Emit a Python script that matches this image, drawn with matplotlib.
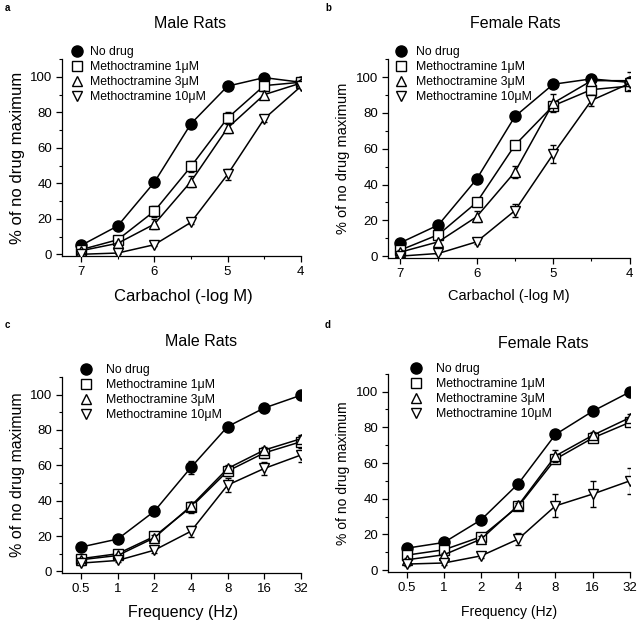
import matplotlib
matplotlib.use("Agg")
import matplotlib.pyplot as plt
from matplotlib.lines import Line2D
from matplotlib.ticker import MultipleLocator
import numpy as np

plt.rcParams['font.family'] = ['Liberation Sans', 'DejaVu Sans']

# Carbachol concentrations (-log M)
carb = [7, 6.5, 6, 5.5, 5, 4.5, 4]
# Frequencies (Hz), plotted on evenly spaced positions
freq_labels = ["0.5", "1", "2", "4", "8", "16", "32"]
freq_pos = [0, 1, 2, 3, 4, 5, 6]

series_names = ["No drug", "Methoctramine 1μM", "Methoctramine 3μM", "Methoctramine 10μM"]

# panel a - male, carbachol
a_nodrug = [5, 16, 40.6, 73.6, 94.8, 99.6, 97]
a_m1 = [2.6, 8.2, 24.3, 49.5, 76.8, 95.1, 97]
a_m3 = [2, 6.2, 17, 41, 71.2, 90, 96.5]
a_m10 = [0, 0.7, 5.4, 18, 45, 76.4, 94.6]
a_err = [[1, 1, 1.5, 1.5, 1, 1, 1],
         [1, 1, 3, 3, 3.5, 1.5, 1.5],
         [1, 1, 3, 3, 3, 2, 1.5],
         [0.5, 0.5, 1, 1, 3, 2, 1]]

# panel b - female, carbachol
b_nodrug = [7.4, 17.4, 43, 78, 96, 99, 97]
b_m1 = [3.3, 12, 30, 62, 84, 93, 95]
b_m3 = [2.2, 8, 22, 47, 85.5, 98, 98]
b_m10 = [0, 1.5, 8, 25.4, 57, 87, 96.5]
b_err = [[1, 1, 1.5, 1.5, 1, 1, 1],
         [1, 1, 1.5, 1.5, 2, 1.5, 2],
         [1, 1, 3, 3.5, 5, 1.5, 5],
         [0.5, 0.5, 1, 3.5, 5, 3, 1.5]]

# panel c - male, frequency
c_nodrug = [13.8, 18.3, 34, 58.8, 81.9, 92.4, 99.6]
c_m1 = [7.2, 10, 19.8, 36.3, 56.7, 67, 73.3]
c_m3 = [6.6, 9, 19, 37, 58.2, 68.6, 75]
c_m10 = [4.7, 6.2, 12, 22.7, 48.8, 58.2, 65.8]
c_err = [[1, 1, 1.5, 3.5, 1, 1, 1],
         [1, 1, 2, 3, 3, 3, 3],
         [1, 1, 1.5, 2, 2, 2, 2],
         [1, 1, 1.5, 3, 4, 3.5, 4]]

# panel d - female, frequency
d_nodrug = [12.3, 15.5, 28.2, 48.4, 76, 89, 99.8]
d_m1 = [8.4, 11.4, 18.7, 35.7, 62.2, 74, 82.8]
d_m3 = [5.8, 8.6, 17.4, 36.3, 64, 75.5, 85.4]
d_m10 = [3.4, 4, 8, 17.4, 36, 42.6, 50]
d_err = [[1, 1, 1, 1, 1, 1, 1],
         [1, 1, 1.5, 2, 2, 1.5, 1.5],
         [1, 1, 1.5, 1.5, 3.5, 2, 2],
         [1, 1, 1, 3.5, 6.5, 7.5, 7.5]]

markers = ["o", "s", "^", "v"]
faces = ["black", "white", "white", "white"]
msizes = [8, 7, 7.5, 7.5]

fig = plt.figure(figsize=(6.4, 6.23), dpi=100)

panels = [
    dict(pos=[0.097, 0.589, 0.373, 0.316], x=carb, ys=[a_nodrug, a_m1, a_m3, a_m10], err=a_err,
         xlim=(7.26, 4), title="Male Rats", xlabel="Carbachol (-log M)", letter="a",
         lsize=12, leg=(71, 46, 0.57), letpos=(5, 8), tpos=(190, 23), xlpos=(183, 296)),
    dict(pos=[0.606, 0.586, 0.378, 0.319], x=carb, ys=[b_nodrug, b_m1, b_m3, b_m10], err=b_err,
         xlim=(7.16, 4), title="Female Rats", xlabel="Carbachol (-log M)", letter="b",
         lsize=10.5, leg=(395, 46, 0.74), letpos=(325, 8), tpos=(515, 23), xlpos=(509, 296)),
    dict(pos=[0.097, 0.080, 0.373, 0.315], x=freq_pos, ys=[c_nodrug, c_m1, c_m3, c_m10], err=c_err,
         xlim=(-0.52, 6), title="Male Rats", xlabel="Frequency (Hz)", letter="c",
         lsize=11.5, leg=(80, 364, 1.15), letpos=(5, 325), tpos=(201, 342), xlpos=(183, 613)),
    dict(pos=[0.606, 0.082, 0.378, 0.318], x=freq_pos, ys=[d_nodrug, d_m1, d_m3, d_m10], err=d_err,
         xlim=(-0.51, 6), title="Female Rats", xlabel="Frequency (Hz)", letter="d",
         lsize=10, leg=(410, 363, 1.15), letpos=(325, 325), tpos=(543, 343), xlpos=(509, 612)),
]

W, H = 640, 623
for p in panels:
    ax = fig.add_axes(p["pos"])
    for i, y in enumerate(p["ys"]):
        ax.errorbar(p["x"], y, yerr=p["err"][i], color="black", lw=1.1,
                    marker=markers[i], ms=msizes[i], mfc=faces[i], mec="black", mew=1.0,
                    capsize=2.5, elinewidth=0.9, capthick=0.9, zorder=3 + i)
    ax.set_xlim(*p["xlim"])
    ax.set_ylim(-1, 110)
    ax.spines["top"].set_visible(False)
    ax.spines["right"].set_visible(False)
    ax.set_yticks([0, 20, 40, 60, 80, 100])
    ax.yaxis.set_minor_locator(MultipleLocator(10))
    if p["x"] is carb:
        ax.set_xticks([7, 6, 5, 4])
        ax.set_xticklabels(["7", "6", "5", "4"])
        ax.xaxis.set_minor_locator(MultipleLocator(0.5))
    else:
        ax.set_xticks(freq_pos)
        ax.set_xticklabels(freq_labels)
    ax.tick_params(direction="out", length=4, width=0.9, labelsize=9.5, pad=3)
    ax.tick_params(which="minor", direction="out", length=2.5, width=0.8)
    for s in ["left", "bottom"]:
        ax.spines[s].set_linewidth(0.9)
    ax.set_ylabel("% of no drug maximum", fontsize=p["lsize"])
    fig.text(p["xlpos"][0] / W, 1 - p["xlpos"][1] / H, p["xlabel"], fontsize=p["lsize"],
             ha="center", va="center")
    fig.text(p["tpos"][0] / W, 1 - p["tpos"][1] / H, p["title"], fontsize=11.5,
             ha="center", va="center")
    fig.text(p["letpos"][0] / W, 1 - p["letpos"][1] / H, p["letter"], fontsize=7,
             fontweight="bold", ha="left", va="center")
    handles = [Line2D([], [], ls="none", marker=markers[i], ms=msizes[i], mfc=faces[i],
                      mec="black", mew=1.0) for i in range(4)]
    lx, ly, pad = p["leg"]
    ax.legend(handles, series_names, loc="upper left", bbox_to_anchor=(lx / W, 1 - ly / H),
              bbox_transform=fig.transFigure, frameon=False, borderaxespad=0, borderpad=0,
              handlelength=1.0, handletextpad=pad, labelspacing=0.25, fontsize=8.8)

fig.savefig("out.png", dpi=100)
